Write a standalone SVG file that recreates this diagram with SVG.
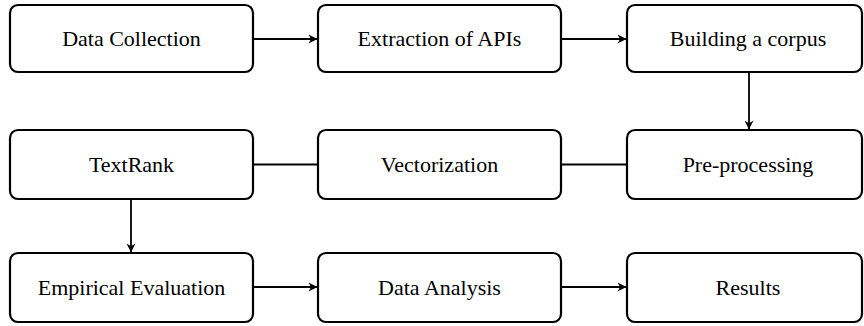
<svg xmlns="http://www.w3.org/2000/svg" width="864" height="326" viewBox="0 0 864 326">
<style>
.box{fill:#fff;stroke:#000;stroke-width:2.2}
.lbl{font-family:'Liberation Serif','Times New Roman',Times,serif;font-size:22px;fill:#000;text-anchor:middle}
.con{stroke:#000;stroke-width:1.8;fill:none}
</style>
<defs>
<marker id="ah" viewBox="0 0 10 10" refX="9.5" refY="5" markerWidth="9" markerHeight="9" markerUnits="userSpaceOnUse" orient="auto">
<path d="M0,0 L10,5 L0,10 L3,5 Z" fill="#000"/>
</marker>
</defs>
<rect width="864" height="326" fill="#fff"/>
<g id="connectors">
<line class="con" x1="253" y1="39" x2="317" y2="39" marker-end="url(#ah)"/>
<line class="con" x1="561" y1="39" x2="626" y2="39" marker-end="url(#ah)"/>
<line class="con" x1="749" y1="72" x2="749" y2="129" marker-end="url(#ah)"/>
<line class="con" x1="253" y1="164.5" x2="318" y2="164.5"/>
<line class="con" x1="561" y1="164.5" x2="627" y2="164.5"/>
<line class="con" x1="131" y1="199" x2="131" y2="252" marker-end="url(#ah)"/>
<line class="con" x1="253" y1="287" x2="317" y2="287" marker-end="url(#ah)"/>
<line class="con" x1="561" y1="287" x2="626" y2="287" marker-end="url(#ah)"/>
</g>
<g id="n1"><rect class="box" x="10" y="5" width="243" height="67" rx="8"/><text class="lbl" x="131.5" y="46">Data Collection</text></g>
<g id="n2"><rect class="box" x="318" y="5" width="243" height="67" rx="8"/><text class="lbl" x="439.5" y="46">Extraction of APIs</text></g>
<g id="n3"><rect class="box" x="627" y="5" width="235" height="67" rx="8"/><text class="lbl" x="748" y="46">Building a corpus</text></g>
<g id="n4"><rect class="box" x="10" y="130" width="243" height="69" rx="8"/><text class="lbl" x="131.5" y="172">TextRank</text></g>
<g id="n5"><rect class="box" x="318" y="130" width="243" height="69" rx="8"/><text class="lbl" x="439.5" y="172">Vectorization</text></g>
<g id="n6"><rect class="box" x="627" y="130" width="235" height="69" rx="8"/><text class="lbl" x="748" y="172">Pre-processing</text></g>
<g id="n7"><rect class="box" x="10" y="253" width="243" height="69" rx="8"/><text class="lbl" x="131.5" y="295">Empirical Evaluation</text></g>
<g id="n8"><rect class="box" x="318" y="253" width="243" height="69" rx="8"/><text class="lbl" x="439.5" y="295">Data Analysis</text></g>
<g id="n9"><rect class="box" x="627" y="253" width="235" height="69" rx="8"/><text class="lbl" x="748" y="295">Results</text></g>
</svg>
